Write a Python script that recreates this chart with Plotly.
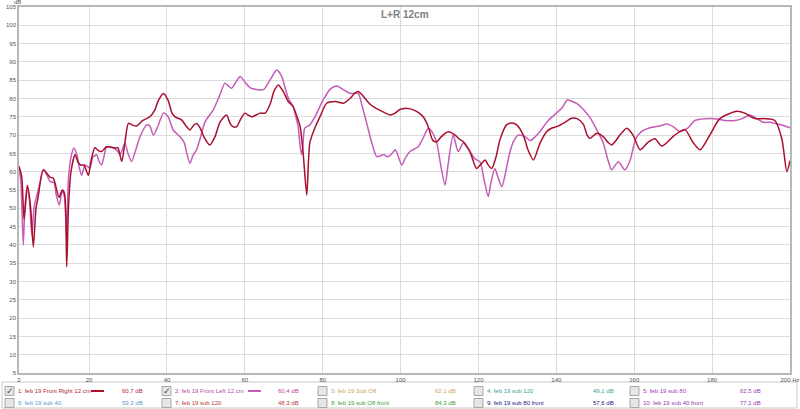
import plotly.graph_objects as go

# ---- data ----
freq_right = [2, 2.7, 3.3, 4.18, 5.0, 5.67, 6.37, 6.9, 8.24, 9.96, 10.8, 12.3, 13.1, 13.7, 14.25, 14.7, 15.35,
              16.4, 17.2, 17.9, 18.7, 19.8, 20.5, 21.5, 22.3, 23.2, 24.5, 26.7, 27.4, 28.4, 29.2, 30.1, 31.0,
              32.2, 33.8, 35.6, 36.9, 37.8, 39.1, 40.3, 41.3, 42.1, 43.8, 44.9, 45.9, 46.7, 47.6, 48.5, 49.5,
              51.0, 52.3, 53.6, 55.3, 56.2, 56.9, 57.9, 59.0, 60.0, 60.8, 61.8, 62.9, 63.9, 65.2, 66.5, 67.5,
              68.6, 69.8, 71.2, 72.4, 73.4, 74.2, 74.9, 75.9, 76.3, 76.7, 78.0, 79.3, 81.0, 83.2, 85.3, 87.0,
              88.1, 89.1, 90.1, 90.9, 92.1, 93.4, 95.2, 97.3, 98.6, 99.8, 101.1, 103.3, 104.5, 105.8, 107.1,
              108.3, 109.3, 110.4, 112.2, 114.0, 115.0, 116.1, 117.8, 119.5, 120.6, 121.7, 122.4, 123.4,
              124.5, 125.5, 127.2, 128.6, 129.8, 131.5, 132.7, 134.1, 135.8, 137.5, 138.6, 140.1, 142.2,
              143.9, 145.3, 146.9, 147.9, 148.6, 150.4, 152.0, 153.3, 154.2, 155.3, 156.3, 158.1, 159.7,
              161.5, 163.5, 165.3, 167.1, 170.4, 173.0, 175.1, 176.9, 179.4, 182.0, 186.4, 188.4, 191.0,
              193.6, 196.1, 197.9, 199.2, 200]
spl_right = [61.5, 58.6, 47.0, 56.2, 50.0, 39.5, 50.0, 53.0, 60.5, 58.5, 58.2, 53.0, 55.0, 54.0, 34.0, 50.0, 60.0,
             64.6, 62.5, 61.8, 61.8, 59.0, 63.0, 66.6, 65.8, 65.5, 66.8, 66.5, 66.5, 62.8, 68.0, 73.2, 72.8,
             72.5, 74.0, 75.0, 76.9, 79.5, 81.4, 79.5, 76.0, 75.0, 74.1, 72.5, 71.4, 72.5, 73.2, 72.0, 69.5,
             67.3, 69.5, 73.5, 75.5, 73.2, 72.3, 72.3, 74.5, 76.0, 75.5, 75.0, 75.5, 76.0, 76.0, 78.5, 82.0,
             83.7, 82.0, 79.1, 77.8, 75.0, 72.3, 66.0, 53.6, 62.0, 68.0, 72.0, 75.0, 78.7, 79.2, 78.7, 80.0,
             81.3, 81.9, 81.0, 80.0, 78.5, 77.5, 76.5, 75.5, 76.0, 77.0, 77.3, 76.9, 76.2, 75.0, 72.3,
             68.5, 68.2, 69.5, 70.9, 70.0, 69.0, 68.2, 65.5, 60.9, 62.0, 63.2, 62.0, 60.9,
             64.0, 68.7, 72.8, 73.3, 72.8, 70.0, 66.0, 63.2, 67.8, 70.9, 71.8, 72.3, 73.5,
             74.6, 74.5, 73.0, 70.0, 69.1, 70.5, 69.6, 68.0, 67.3, 68.5, 70.0, 71.9, 70.0,
             66.0, 68.0, 69.0, 67.0, 70.0, 71.5, 68.0, 66.0, 70.0, 74.5, 76.5, 76.0, 74.5,
             74.5, 74.0, 69.0, 60.0, 63.0]

freq_left = [2, 2.5, 3.1, 3.5, 4.1, 4.7, 5.3, 5.9, 6.6, 7.4, 8.24, 9.2, 10.0, 11.0, 11.5, 12.35, 13.1, 13.7,
             14.2, 14.7, 15.35, 16.1, 16.9, 17.5, 18.1, 18.9, 19.5, 20.2, 21.0, 22.0, 22.5, 23.2, 23.8, 24.5,
             26.1, 27.4, 27.9, 28.7, 29.2, 30.0, 30.9, 32.0, 33.1, 34.8, 35.6, 36.5, 37.7, 39.1, 40.3, 41.6,
             43.3, 44.4, 45.1, 45.9, 46.7, 47.6, 48.5, 49.8, 51.9, 53.4, 54.9, 55.7, 56.6, 57.7, 58.8, 60.0,
             61.3, 62.6, 63.9, 64.9, 66.0, 67.0, 68.2, 69.5, 70.3, 71.2, 72.4, 73.1, 73.7, 74.2, 74.6, 74.9,
             75.4, 76.7, 78.0, 80.1, 81.9, 83.6, 85.2, 87.0, 89.1, 90.1, 91.3, 92.7, 93.9, 95.6, 96.8, 97.8,
             98.6, 99.3, 100.3, 101.1, 102.4, 104.5, 105.7, 107.1, 108.0, 109.3, 110.1, 111.4, 112.2, 113.5,
             114.8, 116.1, 117.8, 119.1, 120.4, 121.4, 122.5, 123.2, 124.2, 125.0, 126.0, 126.8, 128.1,
             129.1, 130.2, 132.0, 133.3, 134.5, 135.8, 137.9, 140.0, 141.5, 142.8, 143.8, 145.4, 147.0,
             148.8, 150.4, 152.0, 153.3, 154.2, 155.9, 157.6, 158.9, 160.4, 161.9, 164.0, 166.5, 168.6,
             170.4, 171.7, 173.8, 175.6, 178.1, 180.7, 183.3, 185.9, 187.7, 189.7, 191.5, 193.1, 194.9,
             196.9, 198.7, 200]
spl_left = [61.4, 57.0, 40.0, 50.0, 56.1, 52.0, 42.7, 50.5, 53.5, 57.0, 60.5, 59.0, 57.3, 57.0, 54.0, 50.9, 54.8, 53.0,
            42.0, 58.0, 64.0, 66.5, 64.5, 61.0, 59.0, 61.8, 61.5, 61.0, 64.0, 64.6, 63.0, 61.8, 64.0, 66.8,
            66.5, 65.5, 64.6, 66.5, 67.8, 65.0, 62.8, 66.0, 69.6, 72.8, 72.5, 70.0, 72.5, 76.0, 75.0, 71.4,
            69.6, 68.0, 65.0, 62.3, 64.5, 66.0, 69.0, 73.7, 76.9, 80.5, 84.2, 83.5, 82.8, 84.5, 86.0, 84.5,
            83.0, 82.5, 82.3, 82.5, 84.2, 86.0, 87.8, 86.0, 83.0, 80.0, 77.8, 75.0, 72.3, 67.0, 64.6, 67.0,
            71.9, 72.8, 75.0, 79.6, 82.5, 83.4, 82.5, 81.4, 81.4, 78.0, 73.2, 67.5, 64.1, 64.6, 64.1, 65.0,
            66.0, 64.5, 61.8, 63.5, 65.5, 66.8, 69.0, 71.9, 71.0, 67.8, 63.0, 56.4, 62.0, 70.0,
            65.5, 67.8, 65.5, 63.5, 62.7, 58.0, 53.2, 57.0, 60.9, 58.5, 55.9, 59.0, 65.5,
            68.5, 70.0, 69.6, 68.5, 69.5, 71.0, 74.0, 76.0, 77.5, 79.6, 79.3, 78.5, 76.9,
            74.5, 71.4, 68.0, 63.0, 60.5, 62.7, 60.5, 63.0, 69.0, 71.0, 72.0, 72.5, 73.0,
            72.0, 71.0, 72.0, 74.0, 74.5, 74.5, 74.0, 74.0, 74.5, 75.5, 74.5, 73.5, 73.5,
            73.0, 72.5, 72.0]

x_ticks = [2, 20, 40, 60, 80, 100, 120, 140, 160, 180, 200]
x_ticktext = ["2", "20", "40", "60", "80", "100", "120", "140", "160", "180", "200 Hz"]
y_ticks = list(range(5, 106, 5))

legend_names = ["1: feb 19 Front Right 12 cm", "2: feb 19 Front Left 12 cm", "3: feb 19 Sub Off",
                "4: feb 19 sub 120", "5: feb 19 sub 80", "6: feb 19 sub 40", "7: feb 19 sub 120",
                "8: feb 19 sub Off front", "9: feb 19 sub 80 front", "10: feb 19 sub 40 front"]
legend_values = ["60,7 dB", "60,4 dB", "62,1 dB", "49,1 dB", "62,5 dB",
                 "59,3 dB", "48,3 dB", "84,3 dB", "57,6 dB", "77,1 dB"]
legend_colors = ["#b0283a", "#b548a8", "#c8a860", "#3aa09a", "#a040b8",
                 "#5a9ad0", "#c03838", "#3f9a3f", "#20207a", "#9a38b0"]
legend_checked = [True, True, False, False, False, False, False, False, False, False]

RED = "#a8102e"
MAG = "#c45cb8"
FONT = "Liberation Sans"

W, H = 800, 409
ML, MR, MT, MB = 19, 10, 7, 36

fig = go.Figure()
fig.add_trace(go.Scatter(x=freq_left, y=spl_left, mode="lines",
                         line=dict(color=MAG, width=1.5, shape="spline", smoothing=0.7),
                         showlegend=False, hoverinfo="skip"))
fig.add_trace(go.Scatter(x=freq_right, y=spl_right, mode="lines",
                         line=dict(color=RED, width=1.5, shape="spline", smoothing=0.7),
                         showlegend=False, hoverinfo="skip"))

fig.update_layout(
    width=W, height=H,
    margin=dict(l=ML, r=MR, t=MT, b=MB, autoexpand=False),
    paper_bgcolor="white", plot_bgcolor="white",
    font=dict(family=FONT, size=6, color="#555"),
    xaxis=dict(range=[2, 200], tickvals=x_ticks, ticktext=x_ticktext, showgrid=True,
               gridcolor="#dcdcdc", gridwidth=1, zeroline=False, showline=True, linecolor="#b8b8b8",
               linewidth=1.5, mirror=True, ticks="", automargin=False,
               tickfont=dict(size=6, color="#555")),
    yaxis=dict(range=[5, 105], tickvals=y_ticks, showgrid=True, gridcolor="#dcdcdc", gridwidth=1,
               zeroline=False, showline=True, linecolor="#b8b8b8", linewidth=1.5, mirror=True,
               ticks="", automargin=False, tickfont=dict(size=6, color="#555")),
)


def px_x(px):
    return (px - ML) / (W - ML - MR)


def px_y(py):
    return (H - MB - py) / (H - MB - MT)


ann = []
shapes = []
ann.append(dict(text="<b>L+R 12cm</b>", x=0.5, xref="paper", y=px_y(14), yref="paper", yanchor="middle",
                showarrow=False, font=dict(size=10, color="#808080", family=FONT)))
ann.append(dict(text="dB", x=px_x(12), y=px_y(2), xref="paper", yref="paper", yanchor="middle",
                showarrow=False, font=dict(size=6, color="#555")))

# legend frame
shapes.append(dict(type="rect", xref="paper", yref="paper",
                   x0=px_x(2), x1=px_x(797), y0=px_y(408), y1=px_y(382),
                   line=dict(color="#c8c8c8", width=1), fillcolor="white", layer="below"))

col_x = [5, 162, 318, 474, 630]
val_off = [115, 114, 115, 117, 108]
row_y = [391, 403]
for i, name in enumerate(legend_names):
    r, c = divmod(i, 5)
    cx = col_x[c]
    cy = row_y[r]
    col = legend_colors[i]
    shapes.append(dict(type="rect", xref="paper", yref="paper",
                       x0=px_x(cx), x1=px_x(cx + 9), y0=px_y(cy + 4.5), y1=px_y(cy - 4.5),
                       line=dict(color="#a8a8a8", width=1), fillcolor="#e6e6e6"))
    if legend_checked[i]:
        ann.append(dict(text="✓", x=px_x(cx + 4.5), y=px_y(cy), xref="paper", yref="paper",
                        xanchor="center", yanchor="middle", showarrow=False,
                        font=dict(size=9, color="#2a4a8a")))
    ann.append(dict(text=name, x=px_x(cx + 11), y=px_y(cy), xref="paper", yref="paper",
                    xanchor="left", yanchor="middle", showarrow=False, font=dict(size=6, color=col)))
    if legend_checked[i]:
        lx = cx + 86
        shapes.append(dict(type="line", xref="paper", yref="paper",
                           x0=px_x(lx), x1=px_x(lx + 13), y0=px_y(cy), y1=px_y(cy),
                           line=dict(color=[RED, MAG][i], width=2)))
    ann.append(dict(text=legend_values[i], x=px_x(cx + val_off[c]), y=px_y(cy),
                    xref="paper", yref="paper", xanchor="left", yanchor="middle", showarrow=False,
                    font=dict(size=6, color=col)))

fig.update_layout(annotations=ann, shapes=shapes)
fig.write_html("out.html", config={"displayModeBar": False},
               post_script="document.body.style.margin='0';document.body.style.overflow='hidden';")
